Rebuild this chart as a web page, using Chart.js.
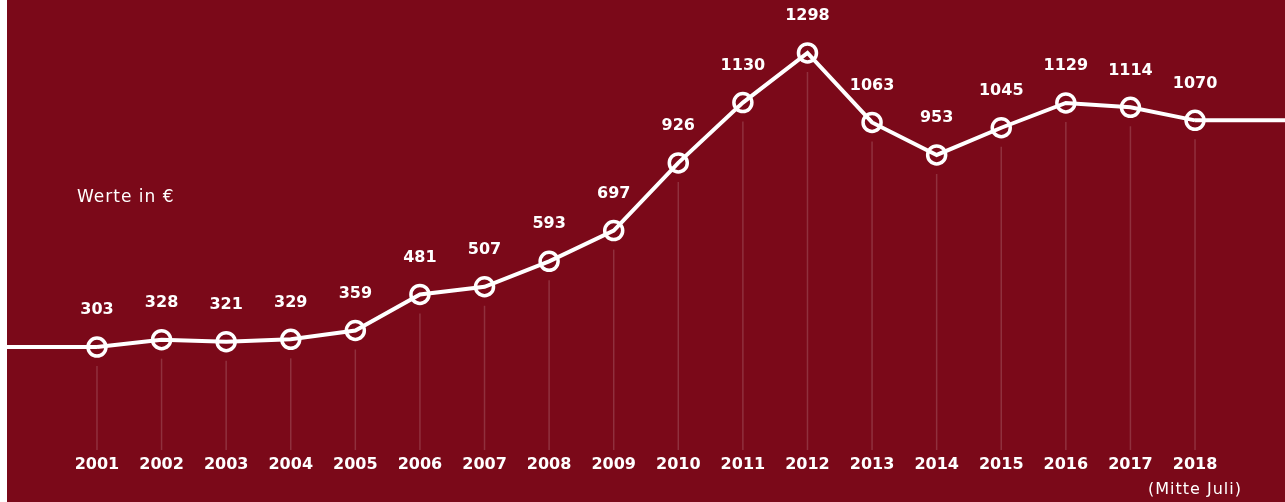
<!DOCTYPE html>
<html>
<head>
<meta charset="utf-8">
<script src="https://cdn.jsdelivr.net/npm/chart.js@4"></script>
<style>
html,body{margin:0;padding:0;background:#ffffff;width:1285px;height:502px;overflow:hidden;}
#wrap{position:absolute;left:7px;top:0;width:1278px;height:502px;background:#7b0919;}
</style>
</head>
<body>
<div id="wrap"><canvas id="c" width="1278" height="502"></canvas></div>
<script>
const years = [2001,2002,2003,2004,2005,2006,2007,2008,2009,2010,2011,2012,2013,2014,2015,2016,2017,2018];
const values = [303,328,321,329,359,481,507,593,697,926,1130,1298,1063,953,1045,1129,1114,1070];
const unitLabel = "Werte in €";
const lastNote = "(Mitte Juli)";

const labelsPlugin = {
  id: 'labelsPlugin',
  beforeDatasetsDraw(chart) {
    const ctx = chart.ctx;
    const meta = chart.getDatasetMeta(0);
    const xs = chart.scales.x;
    ctx.save();
    ctx.strokeStyle = 'rgba(255,255,255,0.16)';
    ctx.lineWidth = 1.5;
    meta.data.forEach(pt => {
      ctx.beginPath();
      ctx.moveTo(pt.x, pt.y + 19);
      ctx.lineTo(pt.x, 450);
      ctx.stroke();
    });
    const first = meta.data[0], last = meta.data[meta.data.length - 1];
    ctx.strokeStyle = '#ffffff';
    ctx.lineWidth = 4;
    ctx.beginPath();
    ctx.moveTo(xs.left, first.y);
    ctx.lineTo(first.x, first.y);
    ctx.moveTo(last.x, last.y);
    ctx.lineTo(xs.right, last.y);
    ctx.stroke();
    ctx.restore();
  },
  afterDatasetsDraw(chart) {
    const ctx = chart.ctx;
    const meta = chart.getDatasetMeta(0);
    ctx.save();
    ctx.fillStyle = '#ffffff';
    ctx.textAlign = 'center';
    ctx.textBaseline = 'middle';
    ctx.font = 'bold 16px "DejaVu Sans"';
    meta.data.forEach((pt, i) => {
      ctx.fillText(String(values[i]), pt.x, pt.y - 37);
      ctx.fillText(String(years[i]), pt.x, 465);
    });
    ctx.font = '16px "DejaVu Sans"';
    ctx.letterSpacing = '1px';
    const last = meta.data[meta.data.length - 1];
    ctx.fillText(lastNote, last.x, 490);
    ctx.textAlign = 'left';
    ctx.font = '17px "DejaVu Sans"';
    ctx.fillText(unitLabel, 70, 198);
    ctx.restore();
  }
};

new Chart(document.getElementById('c'), {
  type: 'line',
  data: {
    datasets: [{
      data: years.map((y, i) => ({x: y, y: values[i]})),
      borderColor: '#ffffff',
      borderWidth: 4,
      pointRadius: 9,
      pointBorderWidth: 3.5,
      pointBorderColor: '#ffffff',
      pointBackgroundColor: 'rgba(0,0,0,0)',
      pointHoverRadius: 9,
      tension: 0
    }]
  },
  options: {
    responsive: false,
    animation: false,
    layout: {padding: 0, autoPadding: false},
    plugins: {legend: {display: false}, tooltip: {enabled: false}},
    scales: {
      x: {type: 'linear', display: false, min: 1999.607, max: 2019.393},
      y: {display: false, min: -221.3, max: 1477.2}
    }
  },
  plugins: [labelsPlugin]
});
</script>
</body>
</html>
